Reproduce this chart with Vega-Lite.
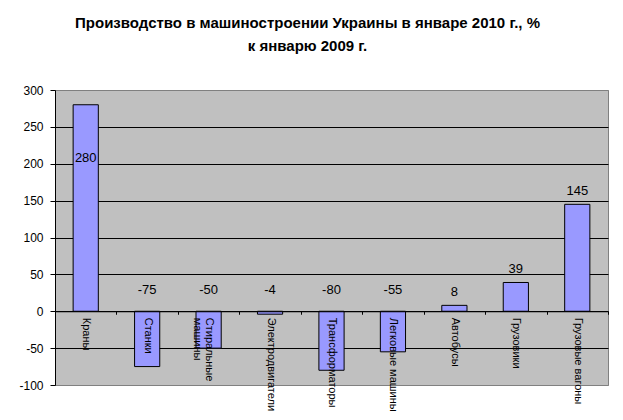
{
  "$schema": "https://vega.github.io/schema/vega-lite/v6.json",
  "autosize": "none",
  "width": 553,
  "height": 295,
  "padding": {"left": 55, "top": 90, "right": 15, "bottom": 35},
  "background": "white",
  "title": {
    "text": ["Производство в машиностроении Украины в январе 2010 г., %", "к январю 2009 г."],
    "font": "Liberation Sans",
    "fontSize": 15,
    "fontWeight": "bold",
    "color": "black",
    "lineHeight": 23,
    "anchor": "middle",
    "frame": "group",
    "dx": -24,
    "offset": 30
  },
  "config": {
    "view": {"fill": "#c0c0c0", "stroke": "#808080", "strokeWidth": 1},
    "axis": {"labelFont": "Liberation Sans", "labelFontSize": 12, "labelColor": "black", "tickColor": "black", "domainColor": "black"}
  },
  "data": {
    "values": [
      {"item": "Краны", "value": 280},
      {"item": "Станки", "value": -75},
      {"item": "Стиральные машины", "value": -50},
      {"item": "Электродвигатели", "value": -4},
      {"item": "Трансформаторы", "value": -80},
      {"item": "Легковые машины", "value": -55},
      {"item": "Автобусы", "value": 8},
      {"item": "Грузовики", "value": 39},
      {"item": "Грузовые вагоны", "value": 145}
    ]
  },
  "encoding": {
    "x": {
      "field": "item",
      "type": "nominal",
      "sort": null,
      "title": null,
      "scale": {"paddingInner": 0, "paddingOuter": 0},
      "axis": {
        "orient": "bottom",
        "offset": -73.75,
        "zindex": 1,
        "labelAngle": 90,
        "labelAlign": "left",
        "labelBaseline": "middle",
        "labelPadding": 3,
        "labelFontSize": 11,
        "labelLineHeight": 12,
        "tickBand": "extent",
        "tickSize": 3,
        "labelExpr": "datum.label == 'Стиральные машины' ? ['Стиральные', 'машины'] : datum.label",
        "labelLimit": 0
      }
    },
    "y": {
      "field": "value",
      "type": "quantitative",
      "title": null,
      "scale": {"domain": [-100, 300], "nice": false},
      "axis": {
        "values": [-100, -50, 0, 50, 100, 150, 200, 250, 300],
        "labelExpr": "datum.value + ''",
        "labelOverlap": false,
        "gridColor": {"condition": {"test": "datum.value == 300 || datum.value == -100", "value": "#808080"}, "value": "black"},
        "gridOpacity": 1,
        "tickSize": 5,
        "labelPadding": 7
      }
    }
  },
  "layer": [
    {
      "mark": {"type": "bar", "width": {"band": 0.41}, "fill": "#9999ff", "stroke": "black", "strokeWidth": 1}
    },
    {
      "transform": [{"calculate": "datum.value < 0 ? 11 : min(datum.value, 190)", "as": "labelY"}],
      "mark": {"type": "text", "font": "Liberation Sans", "fontSize": 13, "color": "black", "dy": -13, "baseline": "middle"},
      "encoding": {
        "y": {"field": "labelY", "type": "quantitative"},
        "text": {"field": "value", "type": "nominal"}
      }
    }
  ]
}
